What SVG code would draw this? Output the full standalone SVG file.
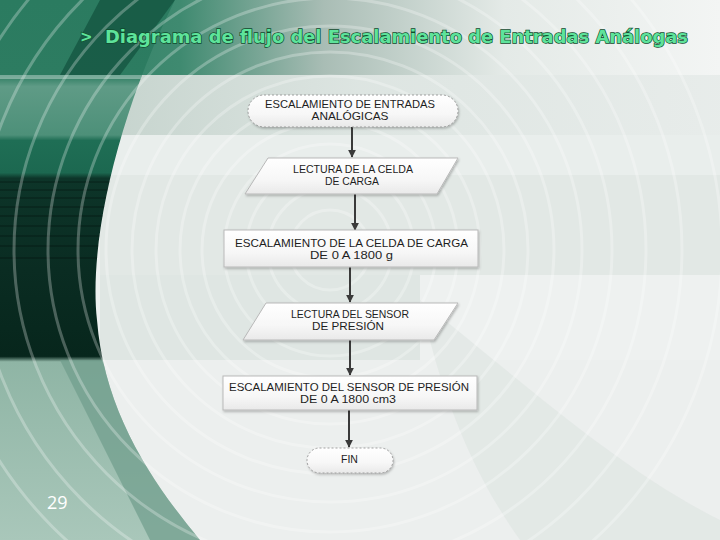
<svg xmlns="http://www.w3.org/2000/svg" width="720" height="540" viewBox="0 0 720 540">
<defs>
<linearGradient id="topband" x1="0" y1="0" x2="1" y2="0">
<stop offset="0" stop-color="#2a7a5f"/>
<stop offset="0.25" stop-color="#3f8a70"/>
<stop offset="0.45" stop-color="#a9bdb5"/>
<stop offset="0.7" stop-color="#e4eae7"/>
<stop offset="1" stop-color="#f3f5f4"/>
</linearGradient>
<linearGradient id="band2" x1="0" y1="0" x2="1" y2="0">
<stop offset="0" stop-color="#b0c4bb"/>
<stop offset="0.5" stop-color="#d9e2de"/>
<stop offset="1" stop-color="#e6ebe9"/>
</linearGradient>
<linearGradient id="greenv" x1="0" y1="0" x2="0" y2="1">
<stop offset="0" stop-color="#2b7b60"/>
<stop offset="0.14" stop-color="#2d7c61"/>
<stop offset="0.16" stop-color="#5f9b86"/>
<stop offset="0.25" stop-color="#4d9079"/>
<stop offset="0.26" stop-color="#1f6e55"/>
<stop offset="0.32" stop-color="#1c6850"/>
<stop offset="0.33" stop-color="#0d3529"/>
<stop offset="0.5" stop-color="#0a2c22"/>
<stop offset="0.66" stop-color="#07261c"/>
<stop offset="0.67" stop-color="#8fb5a5"/>
<stop offset="1" stop-color="#a9c7ba"/>
</linearGradient>
<linearGradient id="nodefill" x1="0" y1="0" x2="0" y2="1">
<stop offset="0" stop-color="#ffffff"/>
<stop offset="0.6" stop-color="#f7f7f7"/>
<stop offset="1" stop-color="#e9e9e9"/>
</linearGradient>
<marker id="arr" viewBox="0 0 10 10" refX="9" refY="5" markerWidth="4" markerHeight="4" orient="auto">
<path d="M0,0 L10,5 L0,10 Z" fill="#3a3a3a"/>
</marker>
<filter id="sh" x="-10%" y="-10%" width="125%" height="140%">
<feDropShadow dx="1" dy="1.5" stdDeviation="1" flood-color="#000" flood-opacity="0.25"/>
</filter>
<clipPath id="leftclip">
<path d="M0,0 L175,0 C120,110 88,240 97,320 C104,410 150,480 200,540 L0,540 Z"/>
</clipPath>
</defs>
<style>
.node{fill:url(#nodefill);stroke:#b9b9b9;stroke-width:1;filter:url(#sh)}
.term{fill:url(#nodefill);stroke:#8a8a8a;stroke-width:0.8;stroke-dasharray:2 2;filter:url(#sh)}
.t{font-family:"Liberation Sans",Arial,sans-serif;font-size:10.5px;fill:#1e1e1e;text-anchor:middle}
.c{fill:none;stroke:#3a3a3a;stroke-width:2;marker-end:url(#arr)}
.ring{fill:none;stroke:#ffffff;stroke-opacity:0.27;stroke-width:3}
</style>
<g id="background">
<rect x="0" y="0" width="720" height="540" fill="#eef1f0"/>
<rect x="0" y="0" width="720" height="75" fill="url(#topband)"/>
<rect x="0" y="75" width="720" height="60" fill="url(#band2)" opacity="0.8"/>
<rect x="100" y="135" width="620" height="40" fill="#e9eeec"/>
<rect x="100" y="175" width="620" height="100" fill="#e2e8e5"/>
<rect x="100" y="275" width="320" height="85" fill="#dfe6e3"/>
<rect x="420" y="275" width="300" height="85" fill="#eef1f0"/>
<rect x="100" y="360" width="620" height="180" fill="#ecefee"/>
<path d="M420,300 C520,380 620,470 720,520 L720,540 L520,540 C470,470 440,390 420,300 Z" fill="#dde5e1" opacity="0.6"/>
<g clip-path="url(#leftclip)">
<rect x="0" y="0" width="220" height="540" fill="url(#greenv)"/>
<path d="M60,360 C90,420 120,480 150,540 L210,540 L210,360 Z" fill="#6f9d8c" opacity="0.7"/>
<path d="M100,0 L175,0 L120,75 L60,75 Z" fill="#0d4a37" opacity="0.6"/>
<rect x="0" y="75" width="220" height="4" fill="#ffffff" opacity="0.35"/>
<g stroke="#000" stroke-opacity="0.25" stroke-width="1.5">
<line x1="0" y1="182" x2="220" y2="182"/>
<line x1="0" y1="190" x2="220" y2="190"/>
<line x1="0" y1="198" x2="220" y2="198"/>
<line x1="0" y1="207" x2="220" y2="207"/>
<line x1="0" y1="216" x2="220" y2="216"/>
<line x1="0" y1="226" x2="220" y2="226"/>
<line x1="0" y1="236" x2="220" y2="236"/>
<line x1="0" y1="246" x2="220" y2="246"/>
<line x1="0" y1="258" x2="220" y2="258"/>
</g>
</g>
<g class="ring">
<circle cx="330" cy="250" r="40"/>
<circle cx="330" cy="250" r="62"/>
<circle cx="330" cy="250" r="84"/>
<circle cx="330" cy="250" r="106"/>
<circle cx="330" cy="250" r="128"/>
<circle cx="330" cy="250" r="150"/>
<circle cx="330" cy="250" r="174"/>
<circle cx="330" cy="250" r="198"/>
<circle cx="330" cy="250" r="224"/>
<circle cx="330" cy="250" r="252"/>
<circle cx="330" cy="250" r="282"/>
<circle cx="330" cy="250" r="316"/>
<circle cx="330" cy="250" r="352"/>
<circle cx="330" cy="250" r="392"/>
</g>
</g>
<g id="title">
<text x="80" y="42" font-family="'DejaVu Sans',Verdana,sans-serif" font-weight="bold" font-size="15" fill="#5ee39b" stroke="#0f4a2d" stroke-width="1.2" paint-order="stroke">&gt;</text>
<text x="105" y="43" font-family="'DejaVu Sans',Verdana,sans-serif" font-weight="bold" font-size="17" fill="#5ee39b" stroke="#0f4a2d" stroke-width="1.3" paint-order="stroke" textLength="583" lengthAdjust="spacingAndGlyphs">Diagrama de flujo del Escalamiento de Entradas Análogas</text>
</g>
<g id="connectors">
<line class="c" x1="352" y1="127" x2="352" y2="157"/>
<line class="c" x1="355" y1="194" x2="355" y2="230"/>
<line class="c" x1="350" y1="267" x2="350" y2="302"/>
<line class="c" x1="350" y1="340" x2="350" y2="375"/>
<line class="c" x1="349" y1="410" x2="349" y2="447"/>
</g>
<g id="n1">
<rect class="term" x="248" y="95" width="210" height="32" rx="16" ry="16"/>
<text class="t" x="350" y="108" textLength="170" lengthAdjust="spacingAndGlyphs">ESCALAMIENTO DE ENTRADAS</text>
<text class="t" x="350" y="120" textLength="77" lengthAdjust="spacingAndGlyphs">ANALÓGICAS</text>
</g>
<g id="n2">
<polygon class="node" points="268,158 458,158 437,194 245,194"/>
<text class="t" x="353" y="173" textLength="120" lengthAdjust="spacingAndGlyphs">LECTURA DE LA CELDA</text>
<text class="t" x="352" y="185" textLength="54" lengthAdjust="spacingAndGlyphs">DE CARGA</text>
</g>
<g id="n3">
<rect class="node" x="224" y="230" width="254" height="37"/>
<text class="t" x="351.5" y="247" textLength="233" lengthAdjust="spacingAndGlyphs">ESCALAMIENTO DE LA CELDA DE CARGA</text>
<text class="t" x="351.5" y="259" textLength="83" lengthAdjust="spacingAndGlyphs">DE 0 A 1800 g</text>
</g>
<g id="n4">
<polygon class="node" points="266,303 458,303 434,340 243,340"/>
<text class="t" x="350" y="318" textLength="118" lengthAdjust="spacingAndGlyphs">LECTURA DEL SENSOR</text>
<text class="t" x="348" y="330" textLength="72" lengthAdjust="spacingAndGlyphs">DE PRESIÓN</text>
</g>
<g id="n5">
<rect class="node" x="223" y="376" width="254" height="34"/>
<text class="t" x="349" y="391" textLength="240" lengthAdjust="spacingAndGlyphs">ESCALAMIENTO DEL SENSOR DE PRESIÓN</text>
<text class="t" x="348" y="403" textLength="96" lengthAdjust="spacingAndGlyphs">DE 0 A 1800 cm3</text>
</g>
<g id="n6">
<rect class="term" x="307" y="448" width="86" height="25" rx="12.5" ry="12.5"/>
<text class="t" x="349.5" y="463">FIN</text>
</g>
<text x="47" y="509" font-family="'Open Sans','Liberation Sans',sans-serif" font-size="18" fill="#ffffff">29</text>
</svg>
